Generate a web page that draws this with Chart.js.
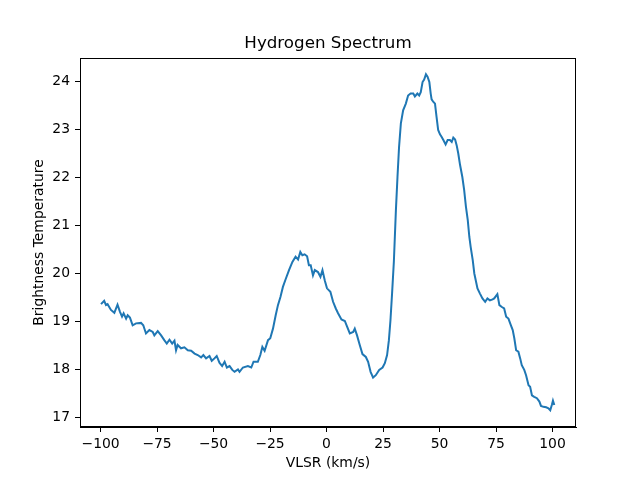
<!DOCTYPE html>
<html>
<head>
<meta charset="utf-8">
<script src="https://cdn.jsdelivr.net/npm/chart.js@4/dist/chart.umd.min.js"></script>
<style>html,body{margin:0;padding:0;background:#fff}canvas{display:block}</style>
</head>
<body>
<canvas id="c" width="640" height="480"></canvas>
<script>
const velocities = [
-99.8,-98.4,-97.6,-96.9,-95.4,-93.9,-92.5,-91.4,-90.5,-89.8,-88.7,-88.0,-87.0,-85.8,-84.3,-82.1,-81.1,-79.9,-78.4,-76.9,
-76.2,-74.7,-73.2,-71.8,-70.7,-69.5,-68.3,-67.3,-66.6,-65.9,-64.4,-62.9,-61.4,-59.9,-58.4,-57.0,-55.5,-54.5,-53.3,-51.8,
-50.8,-49.6,-48.6,-47.4,-46.2,-45.1,-44.1,-42.9,-41.7,-40.7,-39.2,-38.5,-37.0,-34.8,-33.3,-32.3,-30.4,-29.3,-28.4,-27.4,
-25.9,-24.9,-23.7,-22.5,-21.5,-20.4,-19.3,-18.1,-16.6,-15.1,-13.7,-12.6,-11.6,-10.7,-9.7,-8.6,-7.8,-7.0,-6.0,-5.2,
-3.8,-2.7,-1.8,-0.8,0.2,1.7,2.9,4.1,5.1,6.6,8.1,9.1,10.3,11.8,12.5,13.5,14.7,15.9,17.4,18.4,
19.5,20.6,21.8,23.3,24.8,25.8,26.8,27.6,28.3,29.0,29.8,30.7,31.4,32.1,32.9,33.9,35.1,36.1,37.2,38.4,
39.1,40.2,41.0,41.7,42.5,43.2,44.0,44.7,45.5,46.1,46.5,47.2,48.0,48.7,49.4,50.2,50.9,51.7,52.7,53.6,
54.6,55.4,56.1,56.9,57.6,58.3,59.1,60.1,60.9,61.7,62.5,63.2,63.8,64.7,65.4,66.8,67.9,69.0,70.2,71.2,
72.3,73.5,74.2,75.6,76.5,77.6,78.6,79.5,80.5,81.6,82.4,83.1,83.9,84.9,85.7,86.4,87.5,88.3,89.4,90.1,
90.9,91.9,93.1,94.2,94.9,96.0,97.2,98.2,99.0,99.7,100.2,100.8
];
const temperatures = [
19.36,19.43,19.34,19.36,19.24,19.18,19.35,19.20,19.10,19.17,19.06,19.13,19.08,18.92,18.96,18.97,18.92,18.75,18.82,18.78,
18.71,18.80,18.71,18.61,18.54,18.62,18.54,18.60,18.40,18.51,18.44,18.46,18.40,18.39,18.33,18.30,18.25,18.30,18.23,18.28,
18.18,18.23,18.28,18.14,18.07,18.16,18.04,18.07,17.99,17.95,18.00,17.95,18.04,18.07,18.04,18.16,18.16,18.30,18.47,18.39,
18.61,18.65,18.85,19.13,19.34,19.51,19.72,19.88,20.07,20.24,20.35,20.29,20.45,20.38,20.40,20.36,20.17,20.17,19.96,20.07,
20.03,19.93,20.07,19.86,19.69,19.62,19.41,19.27,19.17,19.04,19.01,18.89,18.75,18.78,18.85,18.71,18.51,18.32,18.26,18.16,
17.95,17.83,17.88,17.99,18.04,18.13,18.30,18.61,19.03,19.58,20.25,21.32,22.01,22.64,23.13,23.40,23.54,23.71,23.75,23.75,
23.69,23.75,23.71,23.78,23.99,24.04,24.15,24.10,23.99,23.75,23.63,23.58,23.54,23.26,22.99,22.90,22.85,22.78,22.69,22.78,
22.78,22.74,22.83,22.79,22.67,22.50,22.26,22.01,21.74,21.39,21.11,20.76,20.55,20.28,20.00,19.69,19.58,19.48,19.41,19.48,
19.44,19.46,19.48,19.57,19.34,19.30,19.27,19.10,19.06,18.92,18.82,18.65,18.40,18.37,18.23,18.09,17.99,17.88,17.67,17.64,
17.46,17.43,17.40,17.33,17.24,17.22,17.21,17.19,17.15,17.26,17.35,17.26
];
const xTicks = [-100,-75,-50,-25,0,25,50,75,100];
const yTicks = [17,18,19,20,21,22,23,24];

const FONT = 'DejaVu Sans';
Chart.defaults.color = '#000';
Chart.defaults.font.family = FONT;

const points = velocities.map((v,i)=>({x:v,y:temperatures[i]}));
const fmt = v => String(v).replace('-', '\u2212');

const frame = {
  id:'frame',
  afterDraw(chart){
    const a = chart.chartArea, ctx = chart.ctx;
    ctx.save();
    ctx.strokeStyle = '#000';
    ctx.lineWidth = 1;
    ctx.strokeRect(Math.round(a.left)+0.5, Math.round(a.top)+0.5, Math.round(a.right-a.left)-1, Math.round(a.bottom-a.top)-1);
    ctx.restore();
  }
};

new Chart(document.getElementById('c'), {
  type:'line',
  data:{datasets:[{data:points,borderColor:'#1f77b4',borderWidth:2,pointRadius:0,tension:0,fill:false}]},
  options:{
    responsive:false,animation:false,devicePixelRatio:1,
    layout:{padding:{left:0,right:64,top:0,bottom:0}},
    plugins:{
      legend:{display:false},tooltip:{enabled:false},
      title:{display:true,text:'Hydrogen Spectrum',fullSize:false,color:'#000',
        font:{family:FONT,size:16.7,weight:'normal',lineHeight:1.2},padding:{top:34,bottom:4}}
    },
    scales:{
      x:{type:'linear',min:-109.1,max:110.4,
        afterBuildTicks:s=>{s.ticks=xTicks.map(v=>({value:v}));},
        afterFit:s=>{s.height=53;},
        grid:{display:true,drawOnChartArea:false,drawTicks:true,tickLength:5,color:'#000',tickWidth:1},
        border:{display:true,color:'#000',width:1},
        ticks:{font:{family:FONT,size:13.9},color:'#000',padding:4,maxRotation:0,callback:fmt},
        title:{display:true,text:'VLSR (km/s)',font:{family:FONT,size:13.9,lineHeight:1.2},color:'#000',padding:{top:0,bottom:8.7}}
      },
      y:{type:'linear',min:16.8,max:24.49,
        afterBuildTicks:s=>{s.ticks=yTicks.map(v=>({value:v}));},
        afterFit:s=>{s.width=80;},
        grid:{display:true,drawOnChartArea:false,drawTicks:true,tickLength:5,color:'#000',tickWidth:1},
        border:{display:true,color:'#000',width:1},
        ticks:{font:{family:FONT,size:13.9},color:'#000',padding:5,callback:fmt},
        title:{display:true,text:'Brightness Temperature',font:{family:FONT,size:13.9,lineHeight:1.2},color:'#000',padding:{top:30.7,bottom:0}}
      }
    }
  },
  plugins:[frame]
});
</script>
</body>
</html>
